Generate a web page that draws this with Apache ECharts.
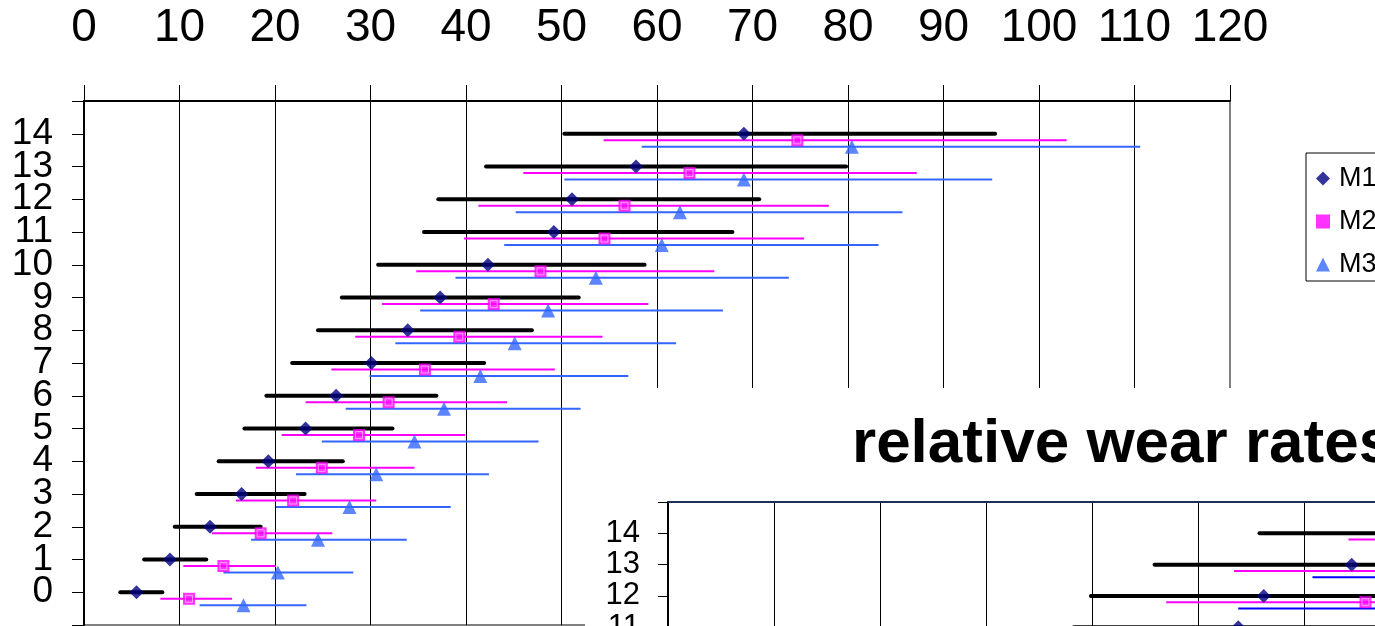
<!DOCTYPE html>
<html><head><meta charset="utf-8">
<script src="https://cdn.jsdelivr.net/npm/echarts@6/dist/echarts.min.js"></script>
<style>html,body{margin:0;padding:0;background:#fff}#c{width:1375px;height:626px}</style>
</head><body><div id="c"></div>
<script>
// ---------- main chart data (rows 0..14) ----------
const m1Y   = [0, 1, 2, 3, 4, 5, 6, 7, 8, 9, 10, 11, 12, 13, 14];
const m1Lo  = [3.8, 6.3, 9.5, 11.8, 14.1, 16.8, 19.1, 21.8, 24.5, 27.0, 30.8, 35.6, 37.1, 42.1, 50.3];
const m1Mid = [5.5, 9.0, 13.2, 16.5, 19.3, 23.2, 26.4, 30.1, 33.9, 37.3, 42.3, 49.2, 51.1, 57.8, 69.1];
const m1Hi  = [8.2, 12.8, 18.5, 23.1, 27.1, 32.3, 36.9, 41.9, 46.9, 51.8, 58.7, 67.9, 70.7, 79.8, 95.4];

const m2Y   = [-0.2, 0.8, 1.8, 2.8, 3.8, 4.8, 5.8, 6.8, 7.8, 8.8, 9.8, 10.8, 11.8, 12.8, 13.8];
const m2Lo  = [8.0, 10.4, 13.4, 15.9, 18.0, 20.7, 23.2, 25.9, 28.4, 31.2, 34.8, 39.8, 41.3, 46.0, 54.4];
const m2Mid = [11.0, 14.6, 18.5, 21.9, 24.9, 28.8, 31.9, 35.7, 39.3, 42.9, 47.8, 54.5, 56.6, 63.4, 74.7];
const m2Hi  = [15.5, 20.1, 26.0, 30.6, 34.6, 39.9, 44.3, 49.3, 54.3, 59.1, 66.0, 75.4, 78.0, 87.2, 102.9];

const m3Y   = [-0.4, 0.6, 1.6, 2.6, 3.6, 4.6, 5.6, 6.6, 7.6, 8.6, 9.6, 10.6, 11.6, 12.6, 13.6];
const m3Lo  = [12.1, 14.6, 17.5, 20.1, 22.2, 24.9, 27.4, 29.9, 32.6, 35.2, 38.9, 44.0, 45.2, 50.3, 58.4];
const m3Mid = [16.7, 20.3, 24.5, 27.8, 30.6, 34.6, 37.7, 41.5, 45.1, 48.6, 53.6, 60.5, 62.4, 69.1, 80.4];
const m3Hi  = [23.3, 28.2, 33.8, 38.4, 42.4, 47.6, 52.0, 57.0, 62.0, 66.9, 73.8, 83.2, 85.7, 95.1, 110.6];

// ---------- second ("relative wear rates") chart, visible rows 11..14 ----------
const r1Y   = [11, 12, 13, 14];
const r1Lo  = [38.3, 39.9, 45.9, 55.8];
const r1Mid = [53.8, 56.2, 64.5, 76.7];
const r1Hi  = [74.0, 77.0, 88.5, 105.0];
const r2Y   = [10.8, 11.8, 12.8, 13.8];
const r2Lo  = [44.0, 47.0, 53.4, 64.2];
const r2Mid = [61.0, 65.8, 73.0, 88.0];
const r2Hi  = [84.0, 90.0, 100.0, 120.0];
const r3Y   = [10.6, 11.6, 12.6, 13.6];
const r3Lo  = [50.0, 53.8, 60.8, 70.0];
const r3Mid = [69.0, 74.0, 83.5, 96.0];
const r3Hi  = [95.0, 102.0, 115.0, 132.0];

const seriesNames = ['M1', 'M2', 'M3'];
const titleText = 'relative wear rates';

const FONT = '"Liberation Sans", Arial, sans-serif';

function rangeSeries(name, lo, hi, ys, color, width, cap, axis, z) {
  return {
    type: 'custom', name: name, xAxisIndex: axis, yAxisIndex: axis, z: z, silent: true,
    data: lo.map((l, i) => [l, hi[i], ys[i]]),
    encode: { x: [0, 1], y: 2 },
    renderItem: function (params, api) {
      const a = api.coord([api.value(0), api.value(2)]);
      const b = api.coord([api.value(1), api.value(2)]);
      return { type: 'line', shape: { x1: a[0], y1: a[1], x2: b[0], y2: b[1] },
               style: { stroke: color, lineWidth: width, lineCap: cap } };
    }
  };
}
function pts(xs, ys) { return xs.map((v, i) => [v, ys[i]]); }

const chart = echarts.init(document.getElementById('c'), null, { renderer: 'canvas' });
const option = {
  animation: false,
  backgroundColor: '#fff',
  textStyle: { fontFamily: FONT },
  title: {
    text: titleText, left: 847, top: 409, z: 130,
    textStyle: { fontFamily: FONT, fontSize: 62, fontWeight: 'bold', color: '#000' }
  },
  legend: {
    orient: 'vertical', left: 1306, top: 153,
    data: seriesNames,
    itemWidth: 14, itemHeight: 14, itemGap: 16,
    padding: [12, 80, 3, 10],
    borderColor: '#000', borderWidth: 1, backgroundColor: '#fff',
    selectedMode: false,
    textStyle: { fontFamily: FONT, fontSize: 27, color: '#000', padding: [0, 0, 0, 4] }
  },
  graphic: {
    elements: [{ type: 'rect', z: 100, silent: true,
      shape: { x: 585, y: 388, width: 790, height: 238 }, style: { fill: '#fff' } }]
  },
  grid: [
    { left: 84, top: 101, width: 1146, height: 524, show: true, borderColor: '#808080', borderWidth: 2,
      outerBoundsMode: 'none', containLabel: false },
    { left: 668, top: 502, width: 1590, height: 501, outerBoundsMode: 'none', containLabel: false }
  ],
  xAxis: [
    { gridIndex: 0, type: 'value', position: 'top', min: 0, max: 120, interval: 10,
      axisLine: { show: true, onZero: false, lineStyle: { color: '#000', width: 2 } },
      axisTick: { show: true, length: 16, lineStyle: { color: '#000', width: 1 } },
      axisLabel: { margin: 50, fontSize: 46, color: '#000', fontFamily: FONT },
      splitLine: { show: true, showMaxLine: false, lineStyle: { color: '#000', width: 1 } } },
    { gridIndex: 1, type: 'value', position: 'top', min: 0, max: 150, interval: 10, z: 110,
      axisLine: { show: true, onZero: false, lineStyle: { color: '#1f2d5c', width: 2 } },
      axisTick: { show: false }, axisLabel: { show: false },
      splitLine: { show: true, lineStyle: { color: '#000', width: 1 } } }
  ],
  yAxis: [
    { gridIndex: 0, type: 'value', min: -1, max: 15, interval: 1,
      axisLine: { show: true, onZero: false, lineStyle: { color: '#000', width: 2 } },
      axisTick: { show: true, length: 12, lineStyle: { color: '#000', width: 1 } },
      axisLabel: { margin: 31, fontSize: 37, color: '#000', fontFamily: FONT,
                   formatter: v => (v < 0 || v > 14) ? '' : String(v) },
      splitLine: { show: false } },
    { gridIndex: 1, type: 'value', min: -1, max: 15, interval: 1, z: 110,
      axisLine: { show: true, onZero: false, lineStyle: { color: '#000', width: 2 } },
      axisTick: { show: true, length: 10, lineStyle: { color: '#000', width: 1 } },
      axisLabel: { margin: 28, fontSize: 31, color: '#000', fontFamily: FONT,
                   formatter: v => (v < 0 || v > 14) ? '' : String(v) },
      splitLine: { show: false } }
  ],
  series: [
    rangeSeries('M1 range', m1Lo, m1Hi, m1Y, '#000', 4, 'round', 0, 2),
    rangeSeries('M2 range', m2Lo, m2Hi, m2Y, '#ff00ff', 2, 'butt', 0, 2),
    rangeSeries('M3 range', m3Lo, m3Hi, m3Y, '#3366ff', 2, 'butt', 0, 2),
    { type: 'scatter', name: 'M1', xAxisIndex: 0, yAxisIndex: 0, z: 3, silent: true,
      symbol: 'diamond', symbolSize: 14, itemStyle: { color: '#000080' }, data: pts(m1Mid, m1Y) },
    { type: 'scatter', name: 'M2', xAxisIndex: 0, yAxisIndex: 0, z: 3, silent: true,
      symbol: 'rect', symbolSize: 12, itemStyle: { color: '#ff00ff' }, data: pts(m2Mid, m2Y) },
    { type: 'scatter', name: 'M2 hl', xAxisIndex: 0, yAxisIndex: 0, z: 4, silent: true,
      symbol: 'rect', symbolSize: 7, itemStyle: { color: 'rgba(0,0,0,0)', borderColor: '#ffb3ff', borderWidth: 1 },
      data: pts(m2Mid, m2Y) },
    { type: 'scatter', name: 'M3', xAxisIndex: 0, yAxisIndex: 0, z: 3, silent: true,
      symbol: 'triangle', symbolSize: 14, itemStyle: { color: '#3366ff' }, data: pts(m3Mid, m3Y) },

    rangeSeries('R1 range', r1Lo, r1Hi, r1Y, '#000', 4, 'round', 1, 115),
    rangeSeries('R2 range', r2Lo, r2Hi, r2Y, '#ff00ff', 2, 'butt', 1, 115),
    rangeSeries('R3 range', r3Lo, r3Hi, r3Y, '#0000ff', 2, 'butt', 1, 115),
    { type: 'scatter', name: 'R1', xAxisIndex: 1, yAxisIndex: 1, z: 120, silent: true,
      symbol: 'diamond', symbolSize: 14, itemStyle: { color: '#000080' }, data: pts(r1Mid, r1Y) },
    { type: 'scatter', name: 'R2', xAxisIndex: 1, yAxisIndex: 1, z: 120, silent: true,
      symbol: 'rect', symbolSize: 12, itemStyle: { color: '#ff00ff' }, data: pts(r2Mid, r2Y) },
    { type: 'scatter', name: 'R2 hl', xAxisIndex: 1, yAxisIndex: 1, z: 121, silent: true,
      symbol: 'rect', symbolSize: 7, itemStyle: { color: 'rgba(0,0,0,0)', borderColor: '#ffb3ff', borderWidth: 1 },
      data: pts(r2Mid, r2Y) },
    { type: 'scatter', name: 'R3', xAxisIndex: 1, yAxisIndex: 1, z: 120, silent: true,
      symbol: 'triangle', symbolSize: 14, itemStyle: { color: '#0000ff' }, data: pts(r3Mid, r3Y) }
  ]
};
chart.setOption(option);
</script>
</body></html>
